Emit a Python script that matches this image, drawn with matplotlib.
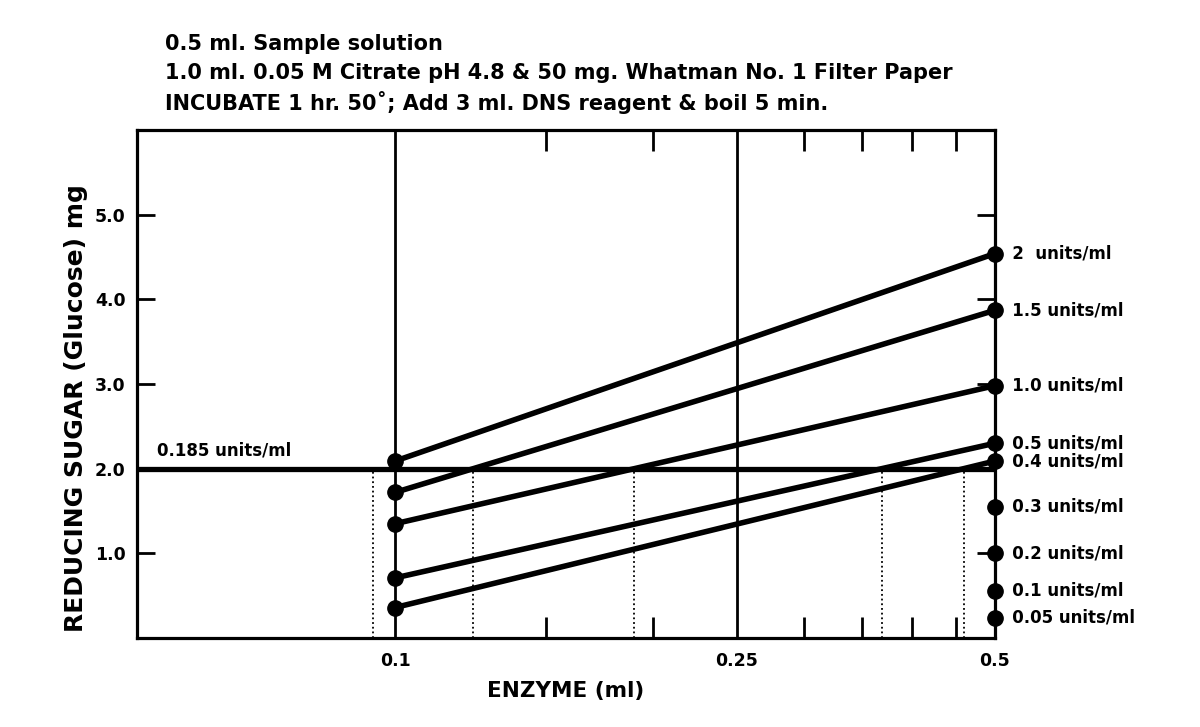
import numpy as np
import matplotlib
matplotlib.use('Agg')
import matplotlib.pyplot as plt

# enzyme volumes (ml) at which the assay lines were measured
enzyme_ml = [0.1, 0.5]

# reducing sugar (mg) for each enzyme concentration, at 0.1 ml and 0.5 ml
line_labels = ['2  units/ml', '1.5 units/ml', '1.0 units/ml', '0.5 units/ml', '0.4 units/ml']
sugar_at_01 = [2.09, 1.72, 1.35, 0.71, 0.36]
sugar_at_05 = [4.54, 3.87, 2.98, 2.30, 2.09]

# standards read only at 0.5 ml
point_labels = ['0.3 units/ml', '0.2 units/ml', '0.1 units/ml', '0.05 units/ml']
point_sugar = [1.55, 1.00, 0.56, 0.24]

target_sugar = 2.0
target_label = '0.185 units/ml'

header = ['0.5 ml. Sample solution',
          '1.0 ml. 0.05 M Citrate pH 4.8 & 50 mg. Whatman No. 1 Filter Paper',
          "INCUBATE 1 hr. 50\u02da; Add 3 ml. DNS reagent & boil 5 min."]

x_ticks = [0.1, 0.25, 0.5]
x_tick_labels = ['0.1', '0.25', '0.5']
x_minor = [0.15, 0.2, 0.3, 0.35, 0.4, 0.45]
y_ticks = [1.0, 2.0, 3.0, 4.0, 5.0]
y_tick_labels = ['1.0', '2.0', '3.0', '4.0', '5.0']

plt.rcParams['font.family'] = ['DejaVu Sans']

fig = plt.figure(figsize=(12, 7.27), dpi=100)
ax = fig.add_axes([0.114, 0.1224, 0.715, 0.6988])
ax.set_xscale('log')
ax.set_xlim(0.05, 0.5)
ax.set_ylim(0, 6)

for s in ax.spines.values():
    s.set_linewidth(2.3)

# full height reference lines
for xv in [0.1, 0.25]:
    ax.axvline(xv, color='black', lw=2.0, zorder=2)

# horizontal target line
ax.axhline(target_sugar, color='black', lw=3.8, zorder=3)
ax.text(0.0528, target_sugar + 0.11, target_label, fontsize=12, fontweight='bold',
        va='bottom', ha='left')

lx = np.log(enzyme_ml)
for y0, y1, lab in zip(sugar_at_01, sugar_at_05, line_labels):
    ax.plot(enzyme_ml, [y0, y1], color='black', lw=4, marker='o', ms=11,
            solid_capstyle='round', zorder=4, clip_on=False)
    # where the line meets the target value -> dotted drop line
    t = (target_sugar - y0) / (y1 - y0)
    xc = np.exp(lx[0] + t * (lx[1] - lx[0]))
    ax.plot([xc, xc], [0, target_sugar], color='black', lw=1.3, ls=(0, (1, 1.6)), zorder=1)
    ax.text(0.5, y1, '   ' + lab, fontsize=12, fontweight='bold',
            va='center', ha='left', clip_on=False)

ax.plot([0.5] * len(point_sugar), point_sugar, 'o', color='black', ms=11,
        zorder=4, clip_on=False)
for yv, lab in zip(point_sugar, point_labels):
    ax.text(0.5, yv, '   ' + lab, fontsize=12, fontweight='bold',
            va='center', ha='left', clip_on=False)

ax.set_xticks(x_ticks)
ax.set_xticklabels(x_tick_labels)
ax.set_xticks(x_minor, minor=True)
ax.xaxis.set_minor_formatter(plt.NullFormatter())
ax.tick_params(axis='x', which='major', length=0, pad=10, labelsize=12.5)
ax.tick_params(axis='x', which='minor', direction='in', length=15, width=2,
               top=True, bottom=True)
ax.set_yticks(y_ticks)
ax.set_yticklabels(y_tick_labels)
ax.tick_params(axis='y', which='major', direction='in', length=13, width=2,
               pad=8, labelsize=12.5, right=True)
for lab in ax.get_xticklabels() + ax.get_yticklabels():
    lab.set_fontweight('bold')

ax.set_xlabel('ENZYME (ml)', fontsize=15.5, fontweight='bold', labelpad=8)
fig.text(0.063, 0.439, 'REDUCING SUGAR (Glucose) mg', rotation=90,
         fontsize=18, fontweight='bold', ha='center', va='center')

for i, line in enumerate(header):
    fig.text(0.1375, 0.94 - i * 0.0405, line, fontsize=15, fontweight='bold',
             ha='left', va='center')

fig.savefig('out.png', dpi=100)
